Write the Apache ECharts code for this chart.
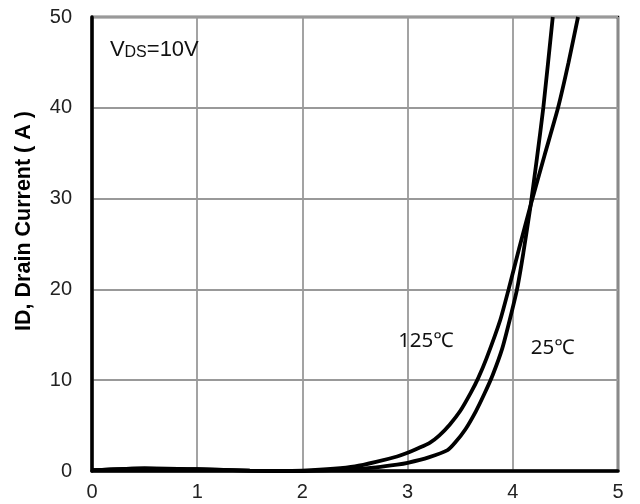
<!DOCTYPE html>
<html>
<head>
<meta charset="utf-8">
<script src="https://cdn.jsdelivr.net/npm/echarts@6/dist/echarts.min.js"></script>
<style>html,body{margin:0;padding:0;background:#fff}#c{width:640px;height:504px}</style>
</head>
<body>
<div id="c"></div>
<script>
const xTicks = [0, 1, 2, 3, 4, 5];
const yTicks = [0, 10, 20, 30, 40, 50];
const yTitle = 'ID, Drain Current ( A )';
const curve125 = [[0,0.1],[0.5,0.3],[1,0.2],[1.5,0.05],[1.8,0],[2,0.05],[2.3,0.25],[2.5,0.5],[2.7,1.0],[2.9,1.6],[3.0,2.0],[3.1,2.5],[3.21,3.1],[3.3,3.9],[3.4,5.1],[3.5,6.6],[3.6,8.6],[3.67,10.2],[3.75,12.4],[3.88,16.6],[3.96,20],[4.06,24.5],[4.17,29.3],[4.3,34.7],[4.43,40],[4.53,45],[4.62,50]];
const curve25 = [[0,0.1],[0.5,0.3],[1,0.2],[1.5,0.05],[1.8,0],[2,0],[2.3,0.1],[2.5,0.2],[2.7,0.4],[2.9,0.7],[3.0,0.9],[3.2,1.5],[3.38,2.3],[3.45,3.1],[3.55,4.6],[3.65,6.6],[3.73,8.5],[3.81,10.6],[3.9,13.5],[3.97,16.6],[4.04,20],[4.1,24],[4.17,29.3],[4.23,34.5],[4.29,40],[4.38,50]];
const labels = [
  {text: '125℃', coord: [2.91, 14.3]},
  {text: '25℃', coord: [4.17, 13.5]}
];
const chart = echarts.init(document.getElementById('c'));
const axisFont = {fontFamily: 'Liberation Sans', fontSize: 20, color: '#222'};
chart.setOption({
  animation: false,
  grid: {left: 92, right: 22, top: 17, bottom: 33, show: true, borderColor: '#000', borderWidth: 2.5},
  xAxis: {
    type: 'value', min: 0, max: 5, interval: 1,
    axisLine: {show: true, onZero: false, lineStyle: {color: '#000', width: 3.5}},
    axisTick: {show: false},
    axisLabel: Object.assign({margin: 11}, axisFont),
    splitLine: {show: true, lineStyle: {color: '#999', width: 1.8}}
  },
  yAxis: {
    type: 'value', min: 0, max: 50, interval: 10,
    axisLine: {show: true, lineStyle: {color: '#000', width: 3.5}},
    axisTick: {show: false},
    axisLabel: Object.assign({margin: 20}, axisFont),
    splitLine: {show: true, lineStyle: {color: '#999', width: 1.8}}
  },
  graphic: [{
    type: 'text', x: 24, y: 221, rotation: Math.PI / 2,
    style: {text: yTitle, fontFamily: 'Liberation Sans', fontSize: 21.5, fontWeight: 'bold', fill: '#000',
      align: 'center', verticalAlign: 'middle'}
  }],
  series: [
    {name: '125℃', type: 'line', data: curve125, showSymbol: false, smooth: 0.2,
     lineStyle: {color: '#000', width: 3.8}, z: 5,
     markPoint: {symbol: 'rect', symbolSize: 0, data: labels.map(l => ({coord: l.coord, value: l.text})),
       label: {show: true, position: 'right', distance: 0, formatter: p => p.value,
         fontFamily: 'Noto Sans', fontSize: 20.5, color: '#111'}}},
    {name: '25℃', type: 'line', data: curve25, showSymbol: false, smooth: 0.2,
     lineStyle: {color: '#000', width: 3.8}, z: 5,
     markPoint: {symbol: 'rect', symbolSize: 0, data: [{coord: [0.17, 46.4], value: 'VDS=10V'}],
       label: {show: true, position: 'right', distance: 0,
         formatter: '{a|V}{b|DS}{a|=10V}',
         rich: {a: {fontFamily: 'Liberation Sans', fontSize: 22, color: '#111'},
                b: {fontFamily: 'Liberation Sans', fontSize: 16, color: '#111', verticalAlign: 'bottom', padding: [6,0,0,0]}}}}}
  ]
});
</script>
</body>
</html>
